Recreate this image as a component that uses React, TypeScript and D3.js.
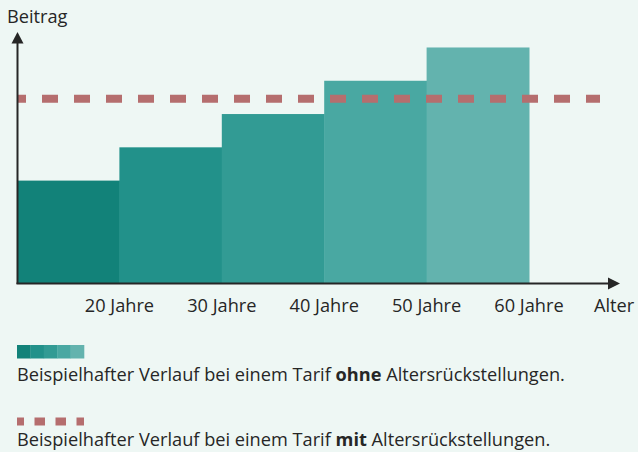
import React, { useRef, useEffect } from 'react';
import * as d3 from 'd3';

// age bands (start, end) and contribution per band
const bandStarts = [10, 20, 30, 40, 50];
const bandEnds = [20, 30, 40, 50, 60];
const beitragOhne = [40, 53, 66, 79, 92];
const beitragMit = 72;
const tickAges = [20, 30, 40, 50, 60];
const barColors = ['#128279', '#22918a', '#329b94', '#49a8a2', '#63b3ae'];

const legendOhne = ['Beispielhafter Verlauf bei einem Tarif ', 'ohne', ' Altersrückstellungen.'];
const legendMit = ['Beispielhafter Verlauf bei einem Tarif ', 'mit', ' Altersrückstellungen.'];

const App = () => {
  const svgRef = useRef<SVGSVGElement>(null);

  useEffect(() => {
    const svg = d3.select(svgRef.current);
    svg.selectAll('*').remove();

    const width = 638;
    const height = 452;
    const font = '"Open Sans", sans-serif';
    const fs = 18.2;
    const ink = '#262626';
    const dashColor = '#b56e6e';

    svg.attr('width', width).attr('height', height);
    svg.append('rect').attr('width', width).attr('height', height).attr('fill', '#eef7f4');

    const x = d3.scaleLinear().domain([10, 60]).range([17, 529]);
    const y = d3.scaleLinear().domain([0, 100]).range([283, 27]);

    // bars
    svg.append('g')
      .selectAll('rect')
      .data(beitragOhne)
      .join('rect')
      .attr('x', (d, i) => x(bandStarts[i]))
      .attr('y', d => y(d))
      .attr('width', (d, i) => x(bandEnds[i]) - x(bandStarts[i]) + 0.5)
      .attr('height', d => y(0) - y(d))
      .attr('fill', (d, i) => barColors[i]);

    // dashed line (tariff with reserves)
    svg.append('line')
      .attr('x1', 18).attr('x2', 600)
      .attr('y1', y(beitragMit)).attr('y2', y(beitragMit))
      .attr('stroke', dashColor)
      .attr('stroke-width', 8)
      .attr('stroke-dasharray', '16 16')
      .attr('stroke-dashoffset', 8);

    // axes with arrows
    svg.append('line')
      .attr('x1', 17.5).attr('x2', 17.5).attr('y1', y(0) + 1).attr('y2', 42)
      .attr('stroke', ink).attr('stroke-width', 2);
    svg.append('path').attr('d', 'M17.5,32 L11.5,43.5 L23.5,43.5 Z').attr('fill', ink);

    svg.append('line')
      .attr('x1', 16.5).attr('x2', 610).attr('y1', y(0) + 0.5).attr('y2', y(0) + 0.5)
      .attr('stroke', ink).attr('stroke-width', 2);
    svg.append('path').attr('d', `M620,${y(0) + 0.5} L608,${y(0) - 5.5} L608,${y(0) + 6.5} Z`).attr('fill', ink);

    // tick labels
    svg.append('g')
      .selectAll('text')
      .data(tickAges)
      .join('text')
      .attr('x', d => x(d))
      .attr('y', 312)
      .attr('text-anchor', 'middle')
      .attr('font-family', font)
      .attr('font-size', fs)
      .attr('fill', ink)
      .text(d => `${d} Jahre`);

    svg.append('text').attr('x', 594).attr('y', 312)
      .attr('font-family', font).attr('font-size', fs).attr('fill', ink).text('Alter');
    svg.append('text').attr('x', 7).attr('y', 23)
      .attr('font-family', font).attr('font-size', fs).attr('fill', ink).text('Beitrag');

    // legend: gradient swatch
    const swatch = d3.scaleBand().domain(d3.range(barColors.length).map(String)).range([17, 84]);
    svg.append('g')
      .selectAll('rect')
      .data(barColors)
      .join('rect')
      .attr('x', (d, i) => swatch(String(i)))
      .attr('y', 345)
      .attr('width', swatch.bandwidth() + 0.3)
      .attr('height', 13.5)
      .attr('fill', d => d);

    // legend: dashed swatch
    svg.append('line')
      .attr('x1', 17).attr('x2', 84).attr('y1', 421.5).attr('y2', 421.5)
      .attr('stroke', dashColor)
      .attr('stroke-width', 8)
      .attr('stroke-dasharray', '10.5 10.5')
      .attr('stroke-dashoffset', 3.5);

    const legendText = (parts, yPos) => {
      const t = svg.append('text').attr('x', 17).attr('y', yPos)
        .attr('font-family', font).attr('font-size', fs).attr('fill', ink);
      parts.forEach((p, i) => {
        t.append('tspan').attr('font-weight', i === 1 ? 700 : 400).text(p);
      });
    };
    legendText(legendOhne, 381);
    legendText(legendMit, 446);
  }, []);

  return (
    <div style={{ position: 'absolute', left: 0, top: 0 }}>
      <svg ref={svgRef} style={{ display: 'block' }}></svg>
    </div>
  );
};

export default App;
